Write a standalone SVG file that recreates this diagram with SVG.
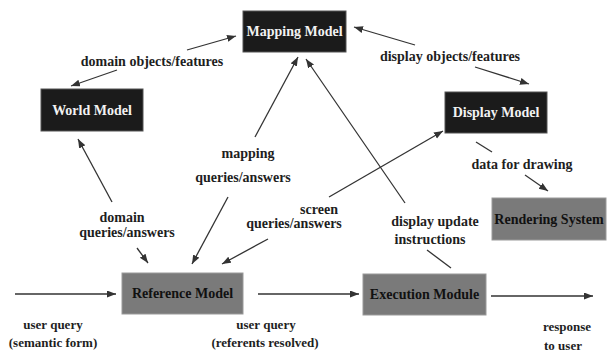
<svg xmlns="http://www.w3.org/2000/svg" width="607" height="354" viewBox="0 0 607 354">
<style>
.dark{fill:#1b1b1b;stroke:#555;stroke-width:1}
.gray{fill:#7a7a7a;stroke:#9a9a9a;stroke-width:1}
.nt{font-family:"Liberation Serif",serif;font-weight:bold;font-size:14px;text-anchor:middle}
.w{fill:#f2f2f2}
.b{fill:#111}
.lb{font-family:"Liberation Serif",serif;font-weight:bold;font-size:14px;text-anchor:middle;fill:#1e1e1e}
.sm{font-size:13px}
.c{stroke:#333;stroke-width:1.3;fill:none}
.a{marker-end:url(#ah)}
</style>
<defs>
<marker id="ah" markerUnits="userSpaceOnUse" markerWidth="10" markerHeight="8" refX="9" refY="3.5" orient="auto">
<path d="M0,0 L9,3.5 L0,7 Z" fill="#333"/>
</marker>
</defs>
<g id="mapping-model"><rect class="dark" x="243" y="11" width="103" height="41"/><text class="nt w" x="294.5" y="36">Mapping Model</text></g>
<g id="world-model"><rect class="dark" x="41" y="89" width="102" height="42"/><text class="nt w" x="92" y="115">World Model</text></g>
<g id="display-model"><rect class="dark" x="445" y="92" width="102" height="41"/><text class="nt w" x="496" y="117">Display Model</text></g>
<g id="rendering-system"><rect class="gray" x="492" y="198" width="114" height="42"/><text class="nt b" x="549" y="224">Rendering System</text></g>
<g id="reference-model"><rect class="gray" x="122" y="273" width="121" height="41"/><text class="nt b" x="182.5" y="298">Reference Model</text></g>
<g id="execution-module"><rect class="gray" x="363" y="274" width="123" height="41"/><text class="nt b" x="424.5" y="299">Execution Module</text></g>
<g id="connectors">
<line class="c a" x1="15" y1="294" x2="116" y2="294"/>
<line class="c a" x1="258" y1="294" x2="359" y2="294"/>
<line class="c a" x1="491" y1="296" x2="593" y2="296"/>
<line class="c a" x1="187" y1="50" x2="236" y2="36"/>
<line class="c a" x1="117" y1="70" x2="71" y2="86"/>
<line class="c a" x1="415" y1="45" x2="354" y2="27"/>
<line class="c a" x1="475" y1="67" x2="529" y2="84"/>
<line class="c a" x1="112" y1="202" x2="78" y2="139"/>
<line class="c a" x1="137" y1="248" x2="148" y2="263"/>
<line class="c a" x1="255" y1="137" x2="298" y2="57"/>
<line class="c a" x1="228" y1="197" x2="192" y2="264"/>
<line class="c a" x1="329" y1="197" x2="443" y2="131"/>
<line class="c a" x1="268" y1="239" x2="222" y2="264"/>
<line class="c a" x1="405" y1="203" x2="306" y2="59"/>
<line class="c" x1="427" y1="250" x2="451" y2="268"/>
<line class="c" x1="476" y1="142" x2="492" y2="152"/>
<line class="c a" x1="525" y1="175" x2="548" y2="191"/>
</g>
<g id="labels">
<text class="lb" x="152" y="66">domain objects/features</text>
<text class="lb" x="450" y="61">display objects/features</text>
<text class="lb" x="248" y="158">mapping</text>
<text class="lb" x="243" y="182">queries/answers</text>
<text class="lb" x="122" y="222">domain</text>
<text class="lb" x="127" y="237">queries/answers</text>
<text class="lb" x="319" y="214">screen</text>
<text class="lb" x="294" y="228">queries/answers</text>
<text class="lb" x="435" y="226">display update</text>
<text class="lb" x="430" y="244">instructions</text>
<text class="lb" x="522" y="169">data for drawing</text>
<text class="lb sm" x="53" y="329">user query</text>
<text class="lb sm" x="53" y="347">(semantic form)</text>
<text class="lb sm" x="266" y="329">user query</text>
<text class="lb sm" x="265" y="347">(referents resolved)</text>
<text class="lb sm" x="567" y="331">response</text>
<text class="lb sm" x="563" y="350">to user</text>
</g>
</svg>
